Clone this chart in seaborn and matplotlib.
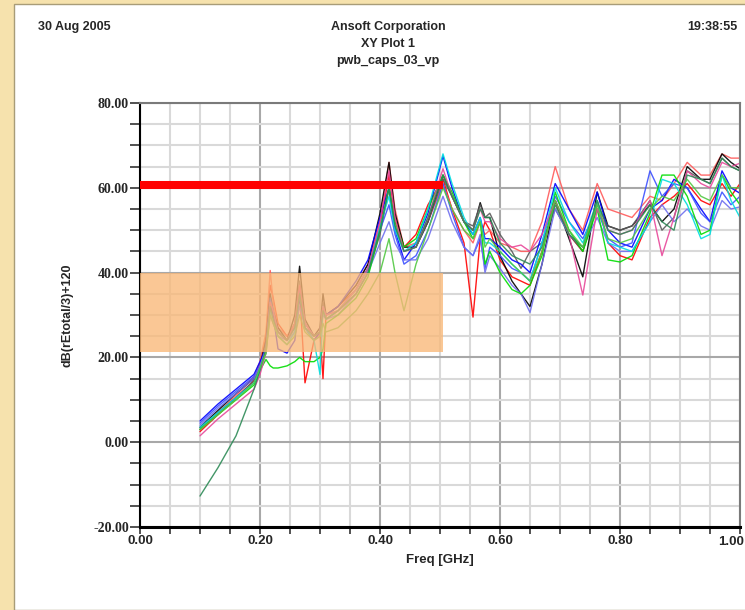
import numpy as np
import pandas as pd
import matplotlib
matplotlib.use('Agg')
import matplotlib.pyplot as plt
import seaborn as sns
from matplotlib.patches import Rectangle
from matplotlib.ticker import MultipleLocator, FormatStrFormatter, FuncFormatter

# frequency grid shared by all traces (GHz)
freq = [0.10, 0.13, 0.16, 0.19, 0.20, 0.21, 0.217, 0.222, 0.23, 0.245,
        0.258, 0.266, 0.275, 0.29, 0.300, 0.305, 0.31, 0.33, 0.36, 0.38,
        0.40, 0.415, 0.425, 0.44, 0.46, 0.48, 0.505, 0.52, 0.54, 0.555,
        0.567, 0.575, 0.583, 0.60, 0.62, 0.635, 0.65, 0.67, 0.692, 0.715,
        0.738, 0.762, 0.78, 0.80, 0.82, 0.85, 0.87, 0.89, 0.912, 0.935,
        0.95, 0.97, 0.985, 1.00]

red_db = [2.5, 6.5, 10.5, 14.5, 18.5, 25, 37, 34, 28, 25,
          27, 36, 14, 24, 26, 15, 30, 32, 36, 41,
          51, 63, 53, 46, 49, 56, 62, 55, 47, 29.5,
          48, 52, 50, 43, 39, 38, 37, 45, 57, 49,
          45, 57, 47, 44, 43, 53, 56, 58, 61, 57,
          56, 61, 58, 61]
lightred_db = [3, 7, 11, 15.5, 19, 26, 40.5, 33, 27, 25,
               28, 37, 27, 24, 26, 33, 30, 32, 37, 42,
               52, 66, 55, 46, 47, 52, 61, 55, 50, 47,
               52, 49, 50, 47, 46, 45, 45, 52, 65, 55,
               50, 61, 55, 54, 53, 58, 57, 61, 66, 63,
               63, 68, 67, 67]
black_db = [3.5, 7.5, 11.5, 15, 18, 24, 35, 31, 27, 24,
            30, 41.5, 29, 25, 27, 35, 30, 32, 37, 42,
            54, 66, 54, 46, 46, 52, 63, 58, 52, 50,
            56.5, 53, 53, 44, 38, 35, 32, 42, 57, 48,
            39, 59, 51, 50, 51, 56, 52, 55, 65, 62,
            62, 68, 66, 64.5]
gray_db = [3, 7, 10.5, 14.5, 18, 23, 33, 30, 26, 24,
           28, 38, 28, 25, 26, 33, 29, 31, 35, 40,
           49, 60, 51, 45, 46, 52, 62, 58, 52, 51,
           56, 53, 54, 49, 45, 41, 45, 47, 55, 49,
           45, 56, 51, 50, 51, 57, 50, 53, 64, 62,
           61, 67, 65, 64]
blue_db = [5, 9, 12.5, 16, 19, 22, 32, 30, 22, 21,
           24, 34, 27, 24, 26, 31, 30, 32, 38, 43,
           53, 60, 50, 43, 47, 54, 67.5, 60, 52, 49,
           53, 48, 48, 46, 43, 42, 40, 49, 61, 55,
           49, 59, 50, 47, 46, 55, 57, 62, 60, 55,
           52, 64, 60, 58.7]
royal_db = [4.5, 8.5, 12, 15.5, 18, 22, 34, 31, 26, 24,
            27, 36, 28, 25, 26, 32, 30, 31, 36, 41,
            50, 56, 49, 42, 44, 50, 61, 54, 46, 44,
            48, 41, 46, 44, 41, 40, 38, 47, 58, 52,
            48, 55, 48, 46, 47, 64, 58, 61, 60, 54,
            52, 59, 56, 58]
slate_db = [4, 8, 11.5, 15, 18, 22, 30, 28, 25, 24,
            26, 32, 27, 24, 25, 30, 29, 30, 35, 40,
            47, 52, 47, 43, 43, 48, 58, 52, 46, 44,
            49, 40, 44, 41, 37, 35, 30.6, 42, 55, 49,
            46, 53, 47, 45, 45, 52, 56, 52, 55, 51,
            50, 57, 55, 55.5]
green_db = [3, 6.5, 10, 13.5, 17, 19.5, 18, 17.5, 17.5, 18,
            19, 20, 19, 19, 20, 22, 28, 30, 34, 39,
            50, 60, 52, 46, 48, 55, 63, 59, 52, 48,
            52, 42, 45, 40, 36, 35, 37, 44, 59, 50,
            45, 55, 43, 42.5, 44, 54, 63, 63, 58, 49,
            50, 63, 59, 56]
cyan_db = [3.5, 7, 10.5, 14, 17, 21, 31, 29, 25, 23,
           26, 35, 27, 24, 16, 32, 29, 31, 36, 41,
           51, 58, 50, 45, 47, 55, 68, 61, 53, 49,
           53, 47, 47, 45, 42, 40, 38, 47, 60, 52,
           47, 57, 47, 46, 45, 52, 62, 61, 56, 48,
           49, 63, 57, 53]
pink_db = [1.5, 5.5, 9, 12.5, 16, 21, 33, 31, 26, 24,
           28, 37, 28, 25, 26, 32, 30, 31, 36, 41,
           52, 64, 53, 45, 46, 53, 64.5, 58, 52, 50,
           55, 52, 52, 48, 46, 46.5, 45, 49, 57, 49,
           34.7, 55, 50, 49, 50, 57, 44, 53, 64, 61,
           60, 66, 65, 65.8]
darkgreen_db = [-12.7, -6, 1.5, 12.5, 17, 22, 32, 29, 26, 24,
                27, 35, 27, 25, 26, 31, 29, 31, 35, 40,
                50, 60, 51, 45, 46, 53, 63, 58, 52, 50,
                55, 53, 53, 47, 44, 43, 42, 46, 56, 49,
                46, 57, 50, 49, 50, 56, 52, 50, 63, 62,
                61, 67, 65, 64]
lime_db = [3, 6.5, 10, 14, 17.5, 21, 30, 28, 25, 23,
           25, 30, 26, 24, 25, 28, 26, 27, 31, 35,
           40, 48, 40, 31, 42, 50, 60, 55, 50, 48,
           52, 46, 48, 45, 42, 40, 38, 45, 57, 50,
           46, 56, 48, 47, 48, 55, 58, 57, 62, 58,
           57, 63, 60, 60]

trace_names = ['red', 'lightred', 'black', 'gray', 'blue', 'royal',
               'slate', 'green', 'cyan', 'pink', 'darkgreen', 'lime']
trace_values = [red_db, lightred_db, black_db, gray_db, blue_db, royal_db,
                slate_db, green_db, cyan_db, pink_db, darkgreen_db, lime_db]
trace_colors = ['#ff0000', '#ff5a5a', '#000000', '#5a5a5a', '#0000ff', '#3c50ff',
                '#6f6fef', '#00dd00', '#00dede', '#e8489a', '#2e8b57', '#52c842']

# limit band and marker line
band_x = [0.0, 0.505]
band_y = [21.2, 40.0]
limit_x = [0.0, 0.505]
limit_y = 60.6

df = pd.concat([pd.DataFrame({'freq': freq, 'db': v, 'trace': n})
                for n, v in zip(trace_names, trace_values)], ignore_index=True)

sns.set_style('white')
plt.rcParams['font.family'] = ['Liberation Sans', 'DejaVu Sans']
narrow = ['Liberation Sans Narrow', 'Liberation Sans']

fig = plt.figure(figsize=(7.45, 6.10), dpi=100, facecolor='#f6e2ad')
page = Rectangle((14 / 745, 0), 1.0, 606 / 610, transform=fig.transFigure,
                 facecolor='white', edgecolor='#a89c78', lw=1.0, zorder=-10)
fig.add_artist(page)

ax = fig.add_axes([140 / 745, 83 / 610, 600 / 745, 424 / 610])
ax.set_facecolor('white')

sns.lineplot(data=df, x='freq', y='db', hue='trace', hue_order=trace_names,
             palette=dict(zip(trace_names, trace_colors)), estimator=None,
             sort=False, legend=False, linewidth=1.0, alpha=0.9, ax=ax)

ax.add_patch(Rectangle((band_x[0], band_y[0]), band_x[1] - band_x[0],
                       band_y[1] - band_y[0], facecolor='#f9b878', alpha=0.78,
                       edgecolor='none', zorder=3))
ax.plot(limit_x, [limit_y, limit_y], color='#ff0000', lw=5.8,
        solid_capstyle='butt', zorder=4)

ax.set_xlim(0, 1.0)
ax.set_ylim(-20, 80)
ax.xaxis.set_major_locator(MultipleLocator(0.2))
ax.xaxis.set_minor_locator(MultipleLocator(0.05))
ax.yaxis.set_major_locator(MultipleLocator(20))
ax.yaxis.set_minor_locator(MultipleLocator(5))
# the 1.00 label is placed by hand so it stays inside the page
ax.xaxis.set_major_formatter(FuncFormatter(lambda v, p: '' if v > 0.99 else f'{v:.2f}'))
ax.yaxis.set_major_formatter(FormatStrFormatter('%.2f'))

ax.set_axisbelow(True)
ax.grid(which='minor', color='#d9d9d9', lw=1.5)
ax.grid(which='major', color='#a8a8a8', lw=1.5)

ax.tick_params(axis='both', which='both', direction='out', color='#333333',
               width=1.2, left=True, bottom=True)
ax.tick_params(axis='y', which='both', length=7)
ax.tick_params(axis='x', which='both', length=5)
ax.tick_params(axis='y', which='major', labelsize=10, pad=1)
ax.tick_params(axis='x', which='major', labelsize=9.5, pad=1)

fig.canvas.draw()
for lbl in ax.get_yticklabels():
    lbl.set_fontfamily('Liberation Serif')
    lbl.set_fontweight('bold')
for lbl in ax.get_xticklabels():
    lbl.set_fontfamily(narrow)
    lbl.set_fontweight('bold')

ax.annotate('1.00', xy=(1.0, 0), xycoords=('data', 'axes fraction'),
            xytext=(3, -6.8), textcoords='offset points', ha='right', va='top',
            fontsize=9.5, fontweight='bold', family=narrow, annotation_clip=False)

for side in ['left', 'bottom']:
    ax.spines[side].set_color('#000000')
    ax.spines[side].set_linewidth(1.5)
ax.spines['bottom'].set_linewidth(2.2)
for side in ['top', 'right']:
    ax.spines[side].set_color('#7a7a7a')
    ax.spines[side].set_linewidth(1.5)

ax.set_xlabel('Freq [GHz]', fontsize=9.5, fontweight='bold', labelpad=5,
              family=narrow)
ax.set_ylabel('dB(rEtotal/3)+120', fontsize=9, fontweight='bold', labelpad=14)

fig.text(38 / 745, 1 - 27 / 610, '30 Aug 2005', fontsize=9, fontweight='bold',
         ha='left', va='center')
fig.text(388 / 745, 1 - 27 / 610, 'Ansoft Corporation', fontsize=9,
         fontweight='bold', ha='center', va='center')
fig.text(388 / 745, 1 - 44 / 610, 'XY Plot 1', fontsize=9, fontweight='bold',
         ha='center', va='center')
fig.text(388 / 745, 1 - 61 / 610, 'pwb_caps_03_vp', fontsize=9,
         fontweight='bold', ha='center', va='center')
fig.text(737 / 745, 1 - 27 / 610, '19:38:55', fontsize=9, fontweight='bold',
         ha='right', va='center')

fig.savefig('out.png', dpi=100, facecolor=fig.get_facecolor())
